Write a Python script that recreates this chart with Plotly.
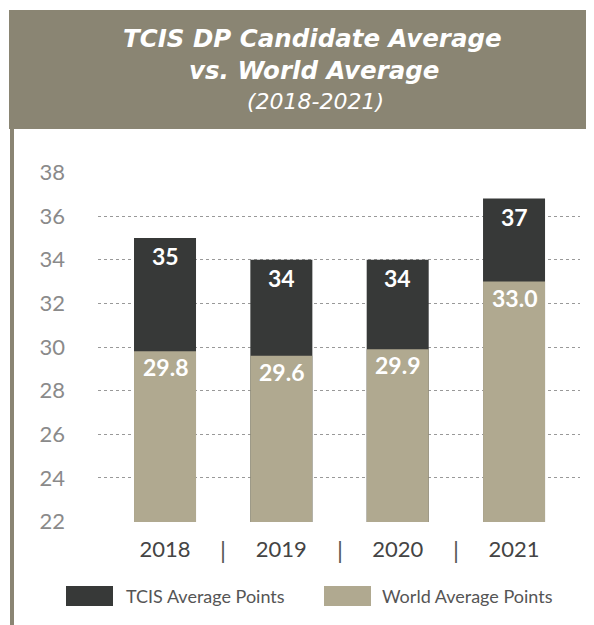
import plotly.graph_objects as go

years = ["2018", "2019", "2020", "2021"]
tcis_avg = [35.0, 34.0, 34.0, 36.8]
world_avg = [29.8, 29.6, 29.9, 33.0]
y_ticks = [22, 24, 26, 28, 30, 32, 34, 36, 38]

DARK = "#373938"
KHAKI = "#b0a990"
HEADER = "#8a8573"

OFF = 8  # page body margin
W, H = 594 - OFF, 625 - OFF
L, R, T, B = 98 - OFF, 580 - OFF, 172 - OFF, 522 - OFF  # plot area in figure px


def px(x):
    return (x - OFF - L) / (R - L)


def py(y):
    return (B - (y - OFF)) / (B - T)


fig = go.Figure()
fig.add_trace(go.Bar(x=years, y=tcis_avg, name="TCIS Average Points",
                     marker=dict(color=DARK, line=dict(width=0)), width=0.533))
fig.add_trace(go.Bar(x=years, y=world_avg, name="World Average Points",
                     marker=dict(color=KHAKI, line=dict(width=0)), width=0.533))

ann = []
for i, (t, w) in enumerate(zip(tcis_avg, world_avg)):
    ann.append(dict(x=i, y=t, xref="x", yref="y", text=f"<b>{t:.0f}</b>", showarrow=False,
                    yshift=-18, yanchor="middle",
                    font=dict(family="Lato", size=23, color="white")))
    ann.append(dict(x=i, y=w, xref="x", yref="y", text=f"<b>{w:.1f}</b>", showarrow=False,
                    yshift=-16, yanchor="middle",
                    font=dict(family="Lato", size=23, color="white")))

# separators between year labels
for i in range(len(years) - 1):
    ann.append(dict(x=i + 0.5, y=py(549), xref="x", yref="paper", text="|", showarrow=False,
                    yanchor="middle", font=dict(family="Lato", size=24, color="#555555")))

# title
ann.append(dict(x=px(312), y=py(38), xref="paper", yref="paper", showarrow=False,
                text="<b><i>TCIS DP Candidate Average</i></b>", yanchor="middle",
                font=dict(family="DejaVu Sans", size=24.5, color="white")))
ann.append(dict(x=px(314), y=py(70), xref="paper", yref="paper", showarrow=False,
                text="<b><i>vs. World Average</i></b>", yanchor="middle",
                font=dict(family="DejaVu Sans", size=24.5, color="white")))
ann.append(dict(x=px(315), y=py(101), xref="paper", yref="paper", showarrow=False,
                text="<i>(2018-2021)</i>", yanchor="middle",
                font=dict(family="DejaVu Sans", size=22, color="white")))

# legend text
ann.append(dict(x=px(124), y=py(596), xref="paper", yref="paper", showarrow=False,
                text="TCIS Average Points", xanchor="left", yanchor="middle",
                font=dict(family="Lato", size=18, color="#555555")))
ann.append(dict(x=px(380), y=py(596), xref="paper", yref="paper", showarrow=False,
                text="World Average Points", xanchor="left", yanchor="middle",
                font=dict(family="Lato", size=18, color="#555555")))

shapes = [
    dict(type="rect", xref="paper", yref="paper", x0=px(9), x1=px(600), y0=py(10), y1=py(129),
         fillcolor=HEADER, line=dict(width=0), layer="below"),
    dict(type="rect", xref="paper", yref="paper", x0=px(10), x1=px(14), y0=py(129), y1=py(630),
         fillcolor=HEADER, line=dict(width=0), layer="below"),
    dict(type="rect", xref="paper", yref="paper", x0=px(66), x1=px(113), y0=py(586), y1=py(606),
         fillcolor=DARK, line=dict(width=0)),
    dict(type="rect", xref="paper", yref="paper", x0=px(324), x1=px(371), y0=py(586), y1=py(606),
         fillcolor=KHAKI, line=dict(width=0)),
]

fig.update_layout(
    width=W, height=H,
    margin=dict(l=L, r=W - R, t=T, b=H - B, pad=0),
    barmode="overlay",
    showlegend=False,
    plot_bgcolor="white", paper_bgcolor="white",
    annotations=ann, shapes=shapes,
    xaxis=dict(type="category", range=[-0.576, 3.567], showgrid=False, zeroline=False,
               showline=False, ticks="", ticklabelstandoff=12,
               tickfont=dict(family="Lato", size=22, color="#444444")),
    yaxis=dict(range=[21.98, 38.02], tickvals=y_ticks, showgrid=True, gridcolor="#999999",
               griddash="dot", gridwidth=1, zeroline=False, showline=False, ticks="",
               ticklabelstandoff=32,
               tickfont=dict(family="Lato", size=22, color="#8a8a8a")),
)

fig.write_html("out.html")
